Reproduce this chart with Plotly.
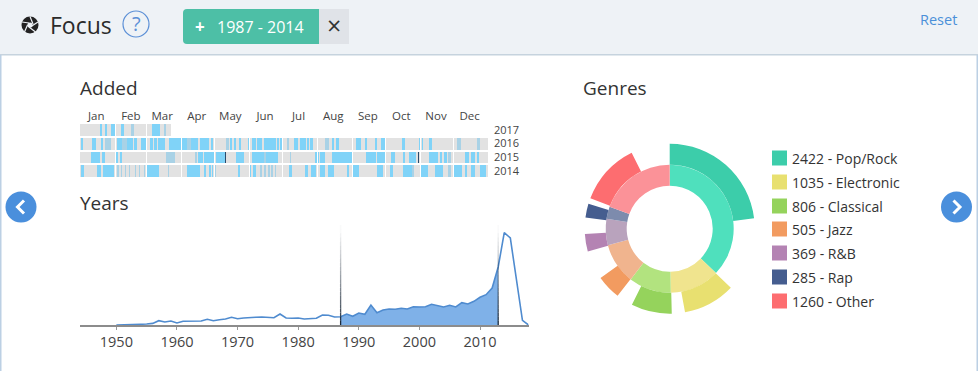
import plotly.graph_objects as go

W, H = 978, 371
FONT = "Open Sans"
def px(x): return x / W
def py(y): return 1 - y / H

# ---------- data ----------
months = ["Jan","Feb","Mar","Apr","May","Jun","Jul","Aug","Sep","Oct","Nov","Dec"]
month_start = [0,31,59,90,120,151,181,212,243,273,304,334]
calendar_years = ["2014","2015","2016","2017"]
days_recorded = {"2014":365,"2015":365,"2016":365,"2017":81}
runs_2017 = [(18,19),(22,23),(28,31),(37,38),(64,71)]
soft_2017 = [(46,47),(75,76)]
runs_2016 = [(1,2),(11,13),(19,20),(33,37),(42,46),(48,50),(55,59),(63,64),(66,68),(70,75),(80,85),(86,89),(91,95),(99,105),(107,114),(117,118),
             (134,135),(138,139),(142,143),(150,151),(154,156),(158,162),(165,174),(176,177),(179,180),(191,194),(197,201),(203,204),(206,207),
             (225,226),(229,231),(247,250),(255,256),(264,265),(269,272),(288,290),(303,304),(306,306),(312,314)]
soft_2016 = [(22,27),(38,41),(96,98),(131,132),(185,186),(219,222),(337,340),(355,357)]
runs_2015 = [(10,17),(20,21),(32,33),(36,37),(106,109),(111,119),(122,129),(140,146),(154,164),(166,176),(210,213),(215,218),(225,243),
             (256,264),(266,273),(278,281),(289,290),(294,300),(312,319),(322,323),(326,327),(344,347),(350,352),(355,356)]
soft_2015 = [(77,78),(79,84),(103,104),(165,165),(188,188),(329,331)]
dark_2015 = [(130,130),(302,302)]
runs_2014 = [(1,3),(15,18),(21,29),(60,70),(96,100),(101,106),(111,112),(115,116),(118,118),(141,142),(151,152),(155,156),(187,189),(201,203),(207,210),
             (215,218),(222,226),(239,240),(244,249),(266,270),(277,279),(289,296),(304,310),(318,324),(334,341),(344,345),(350,352),(358,362)]
soft_2014 = [(33,34),(37,37),(40,40),(44,44),(49,49),(53,53),(57,57),(64,65),(79,79),(121,121),(161,162),(165,165),(168,169),(171,172),(174,174),(297,298),(329,331)]

release_years = list(range(1950, 2019))
release_counts = [0,0,0,.3,.7,1,1.6,4.3,3,4,2,3.7,3.7,3.3,4,5.7,4.3,5.3,6,7.7,6.3,7,7.7,7.7,8,8,7.3,11,7,6.7,7,6,6.7,6.7,10,9.7,8,8.3,
                  11,8.7,12,10.7,20,12.3,15,16,15.7,16.7,16,18.3,18,18.3,20.7,19,18,19.7,18,22.3,21,23.7,27.7,30.3,37,58,92.3,87,46,4.7,0]
focus_from, focus_to = 1987, 2013

genres = ["Pop/Rock","Electronic","Classical","Jazz","R&B","Rap","Other"]
genre_counts = [2422,1035,806,505,369,285,1260]
inner_sweep = [133.7,45.3,38.6,37.4,24,11,70]
outer_start = [0,134,178.6,217.8,254.5,277.6,291]
outer_end = [83,169.6,206.4,234.5,266.4,287,333.4]

# ---------- styles ----------
outer_colors = ["#3ccdaa","#e8e070","#95d35c","#f29b60","#b483b3","#455d8f","#fd6d70"]
inner_colors = ["#4fe0bd","#f0e48e","#b2e37f","#f0b48e","#b9a3bd","#7d8bad","#fb9298"]
BLUE = "#4a8fdc"

fig = go.Figure()

# ---------- calendar ----------
def row(year, soft, runs, dark=()):
    n = days_recorded[year]
    z = [0 if d < n else None for d in range(365)]
    for level, spans in ((1, soft), (2, runs), (3, dark)):
        for a, b in spans:
            for d in range(a, b + 1):
                if d < n: z[d] = level
    for m in month_start[1:]:
        z[m] = None
    return z

z = [row("2014", soft_2014, runs_2014), row("2015", soft_2015, runs_2015, dark_2015),
     row("2016", soft_2016, runs_2016), row("2017", soft_2017, runs_2017)]
fig.add_trace(go.Heatmap(z=z, x=list(range(365)), y=calendar_years, xaxis="x", yaxis="y",
    zmin=0, zmax=3, showscale=False, ygap=2, hoverinfo="skip",
    colorscale=[[0,"#e2e2e2"],[.25,"#e2e2e2"],[.25,"#a9d2e6"],[.5,"#a9d2e6"],[.5,"#80d3f8"],[.75,"#80d3f8"],[.75,"#2b4a6b"],[1,"#2b4a6b"]]))

# ---------- years ----------
fx = [y for y in release_years if focus_from <= y <= focus_to]
fy = [c for y, c in zip(release_years, release_counts) if focus_from <= y <= focus_to]
fig.add_trace(go.Scatter(x=fx, y=fy, xaxis="x2", yaxis="y2", mode="lines", fill="tozeroy",
    fillcolor="#7fb1e8", line=dict(width=0), hoverinfo="skip"))
fig.add_trace(go.Scatter(x=release_years, y=release_counts, xaxis="x2", yaxis="y2", mode="lines",
    line=dict(color="#4f8bcf", width=1.6), hoverinfo="skip"))

# ---------- genres ----------
starts, s = [], 0
for v in inner_sweep:
    starts.append(s); s += v
fig.add_trace(go.Barpolar(theta=[a + v / 2 for a, v in zip(starts, inner_sweep)], width=inner_sweep,
    r=[21] * 7, base=[43] * 7, marker=dict(color=inner_colors, line=dict(width=0)), hoverinfo="skip", subplot="polar"))
fig.add_trace(go.Barpolar(theta=[(a + b) / 2 for a, b in zip(outer_start, outer_end)],
    width=[b - a for a, b in zip(outer_start, outer_end)],
    r=[21] * 7, base=[64] * 7, marker=dict(color=outer_colors, line=dict(width=0)), hoverinfo="skip", subplot="polar"))

# ---------- chrome ----------
shapes = []
def rect(x0, y0, x1, y1, fill, layer="below"):
    shapes.append(dict(type="rect", xref="paper", yref="paper", x0=px(x0), x1=px(x1), y0=py(y1), y1=py(y0),
                       fillcolor=fill, line=dict(width=0), layer=layer))
def circle(cx, cy, r, fill="rgba(0,0,0,0)", line=None, lw=0):
    shapes.append(dict(type="circle", xref="paper", yref="paper", x0=px(cx-r), x1=px(cx+r), y0=py(cy+r), y1=py(cy-r),
                       fillcolor=fill, line=dict(color=line or fill, width=lw), layer="above"))
def path(pts, color, lw):
    d = "M " + " L ".join(f"{px(a):.5f},{py(b):.5f}" for a, b in pts)
    shapes.append(dict(type="path", xref="paper", yref="paper", path=d, line=dict(color=color, width=lw), layer="above"))

rect(0, 0, W, 54, "#eef2f6")
rect(0, 54, W, 55.5, "#c6d3de")
rect(0, 55, 1.5, H, "#bcd0e4")
rect(W-1.5, 55, W, H, "#bcd0e4")
# tag button
rect(319, 9, 349, 44, "#e0e3e8")
d = (f"M {px(187):.5f},{py(9):.5f} L {px(319):.5f},{py(9):.5f} L {px(319):.5f},{py(44):.5f} L {px(187):.5f},{py(44):.5f} "
     f"Q {px(183):.5f},{py(44):.5f} {px(183):.5f},{py(40):.5f} L {px(183):.5f},{py(13):.5f} Q {px(183):.5f},{py(9):.5f} {px(187):.5f},{py(9):.5f} Z")
shapes.append(dict(type="path", xref="paper", yref="paper", path=d, fillcolor="#4dbfa6", line=dict(width=0), layer="below"))
# aperture icon
circle(30, 25, 8.5, "#222222")
circle(30, 25, 2.6, "#eef2f6")
for a, b in [((30,16.5),(33,24)),((38,22),(31,26.5)),((35.5,32),(29,27)),((24.5,32),(27.5,25)),((22,22),(29,23))]:
    path([a, b], "#eef2f6", 1.2)
circle(136, 24, 13, "rgba(0,0,0,0)", "#5b8fd6", 1.2)
# nav buttons
circle(21, 207, 15.5, BLUE)
circle(956.5, 207, 15.5, BLUE)
path([(24, 200.5), (17.5, 207), (24, 213.5)], "#ffffff", 3)
path([(953.5, 200.5), (960, 207), (953.5, 213.5)], "#ffffff", 3)
# legend swatches
legend_y = [158, 182, 206, 229, 253, 277, 301]
for c, y in zip(outer_colors, legend_y):
    rect(772, y-7.5, 787, y+7.5, c, layer="above")
# focus brush edges, fading upward
n = 24
for edge in (focus_from, focus_to):
    for i in range(n):
        shapes.append(dict(type="line", xref="x2", yref="y2", x0=edge, x1=edge, y0=i*100/n, y1=(i+1)*100/n,
                           line=dict(color="#1c2a3a", width=1.3), opacity=max(0.02, 1-(i/n)**0.8*1.05), layer="above"))

notes = []
def text(x, y, s, size, color="#333333", anchor="left"):
    shift = {"left": -2, "right": 2, "center": 0}[anchor]
    notes.append(dict(xref="paper", yref="paper", x=px(x), y=py(y), xshift=shift, text=s, showarrow=False, xanchor=anchor, yanchor="middle",
                      font=dict(family=FONT, size=size, color=color), align="left"))
text(50, 25, "Focus", 23, "#2b2b2b")
text(136, 23.5, "?", 20, "#5b8fd6", "center")
text(200, 26, "<b>+</b>", 17, "#ffffff", "center")
text(217, 27, "1987 - 2014", 16, "#ffffff")
text(334, 25, "×", 25, "#333333", "center")
text(957, 19, "Reset", 14.5, "#4a90d9", "right")
text(80, 88, "Added", 19)
text(80, 203, "Years", 19)
text(583, 88, "Genres", 19)
for g, v, y in zip(genres, genre_counts, legend_y):
    text(792, y, f"{v} - {g}", 14)

fig.update_layout(
    width=W, height=H, autosize=False, margin=dict(l=0, r=0, t=0, b=0, pad=0),
    paper_bgcolor="#ffffff", plot_bgcolor="rgba(0,0,0,0)", showlegend=False,
    font=dict(family=FONT, color="#444444"), shapes=shapes, annotations=notes,
    xaxis=dict(domain=[px(80), px(488)], range=[-0.5, 364.5], side="top", anchor="y", showgrid=False, zeroline=False,
               tickvals=[s + 14 for s in month_start], ticktext=months, ticks="", tickfont=dict(size=11.5, color="#444444"), showline=False),
    yaxis=dict(domain=[py(178), py(123)], side="right", anchor="x", showgrid=False, zeroline=False, ticks="",
               type="category", tickfont=dict(size=11, color="#444444"), showline=False, ticklabelstandoff=5),
    xaxis2=dict(domain=[px(80), px(528.5)], range=[1944, 2018], anchor="y2", showgrid=False, zeroline=False,
                tickvals=[1950,1960,1970,1980,1990,2000,2010], ticks="outside", ticklen=3, tickcolor="#999999",
                tickfont=dict(size=14.5, color="#444444"), showline=True, linecolor="#8c8c8c", linewidth=1.5),
    yaxis2=dict(domain=[py(325), py(225)], range=[0, 100], anchor="x2", visible=False),
    polar=dict(domain=dict(x=[px(669.7-88), px(669.7+88)], y=[py(228.7+88), py(228.7-88)]),
               bgcolor="rgba(0,0,0,0)", barmode="overlay",
               radialaxis=dict(visible=False, range=[0, 88]),
               angularaxis=dict(visible=False, direction="clockwise", rotation=90)),
)
fig.write_html("out.html", config=dict(displayModeBar=False), post_script="document.body.style.margin='0';")
